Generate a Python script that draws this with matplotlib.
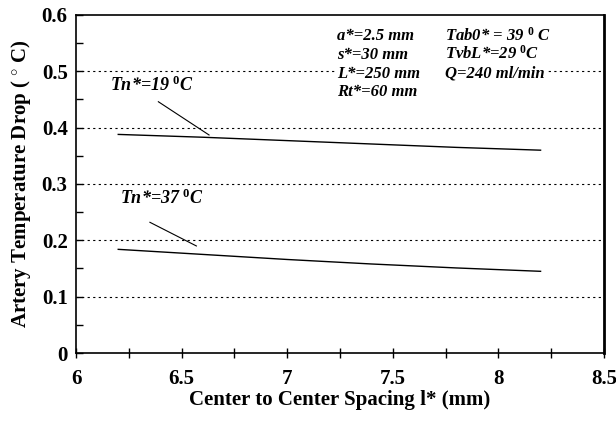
import matplotlib.pyplot as plt
from matplotlib.ticker import MultipleLocator, FormatStrFormatter

# data
spacing = [6.2, 6.6, 7.0, 7.4, 7.8, 8.2]
drop_tn19 = [0.388, 0.383, 0.377, 0.371, 0.365, 0.360]
drop_tn37 = [0.184, 0.175, 0.166, 0.158, 0.151, 0.145]

params_left = ["a*=2.5 mm", "s*=30 mm", "L*=250 mm", "Rt*=60 mm"]
params_right = ["Tab0* = 39 $^0$ C", "TvbL*=29 $^0$C", "Q=240 ml/min"]

plt.rcParams['font.family'] = ['Liberation Serif', 'DejaVu Serif']
plt.rcParams['mathtext.fontset'] = 'custom'
plt.rcParams['mathtext.it'] = 'Liberation Serif:italic:bold'
plt.rcParams['mathtext.rm'] = 'Liberation Serif:bold'

fig = plt.figure(figsize=(6.16, 4.22), dpi=100)
ax = fig.add_axes([0.1234, 0.1635, 0.857, 0.801])

ax.plot(spacing, drop_tn19, color='black', lw=1.0)
ax.plot(spacing, drop_tn37, color='black', lw=1.0)

ax.set_xlim(6, 8.5)
ax.set_ylim(0, 0.6)
ax.xaxis.set_major_locator(MultipleLocator(0.5))
ax.xaxis.set_minor_locator(MultipleLocator(0.25))
ax.yaxis.set_major_locator(MultipleLocator(0.1))
ax.yaxis.set_minor_locator(MultipleLocator(0.05))
ax.xaxis.set_major_formatter(FormatStrFormatter('%g'))
ax.yaxis.set_major_formatter(FormatStrFormatter('%g'))
ax.tick_params(axis='x', which='both', direction='inout', length=7, width=1, top=False,
               labelsize=15, pad=8)
ax.tick_params(axis='y', which='both', direction='in', length=5, width=1, right=False,
               labelsize=15, pad=6)
for lbl in ax.get_xticklabels() + ax.get_yticklabels():
    lbl.set_fontweight('bold')

for y in [0.1, 0.2, 0.3, 0.4, 0.5]:
    ax.axhline(y, color='black', lw=0.8, ls=(0, (2, 3)), zorder=1)

for s in ax.spines.values():
    s.set_linewidth(1.2)
ax.spines['right'].set_linewidth(2)

ax.set_xlabel("Center to Center Spacing l* (mm)", fontsize=15, fontweight='bold', labelpad=1)
ax.set_ylabel("Artery Temperature Drop ( $^{\\circ}$ C)", fontsize=15, fontweight='bold', labelpad=6)

# curve labels with pointer lines
ax.text(6.16, 0.465, "Tn*=19 $^0$C", fontsize=13, fontstyle='italic', fontweight='bold')
ax.plot([6.39, 6.63], [0.446, 0.387], color='black', lw=0.8)
ax.text(6.21, 0.265, "Tn*=37 $^0$C", fontsize=13, fontstyle='italic', fontweight='bold')
ax.plot([6.35, 6.57], [0.232, 0.19], color='black', lw=0.8)

# parameter block, white behind it like the original
box = dict(facecolor='white', edgecolor='none', pad=1)
y0 = 0.555
for i, t in enumerate(params_left):
    ax.text(7.236, y0 - i * 0.033, t + "      ", fontsize=12, fontstyle='italic',
            fontweight='bold', bbox=box, zorder=3)
for i, t in enumerate(params_right):
    ax.text(7.747, y0 - i * 0.033, t, fontsize=12, fontstyle='italic',
            fontweight='bold', bbox=box, zorder=4)

fig.savefig("out.png", dpi=100)
